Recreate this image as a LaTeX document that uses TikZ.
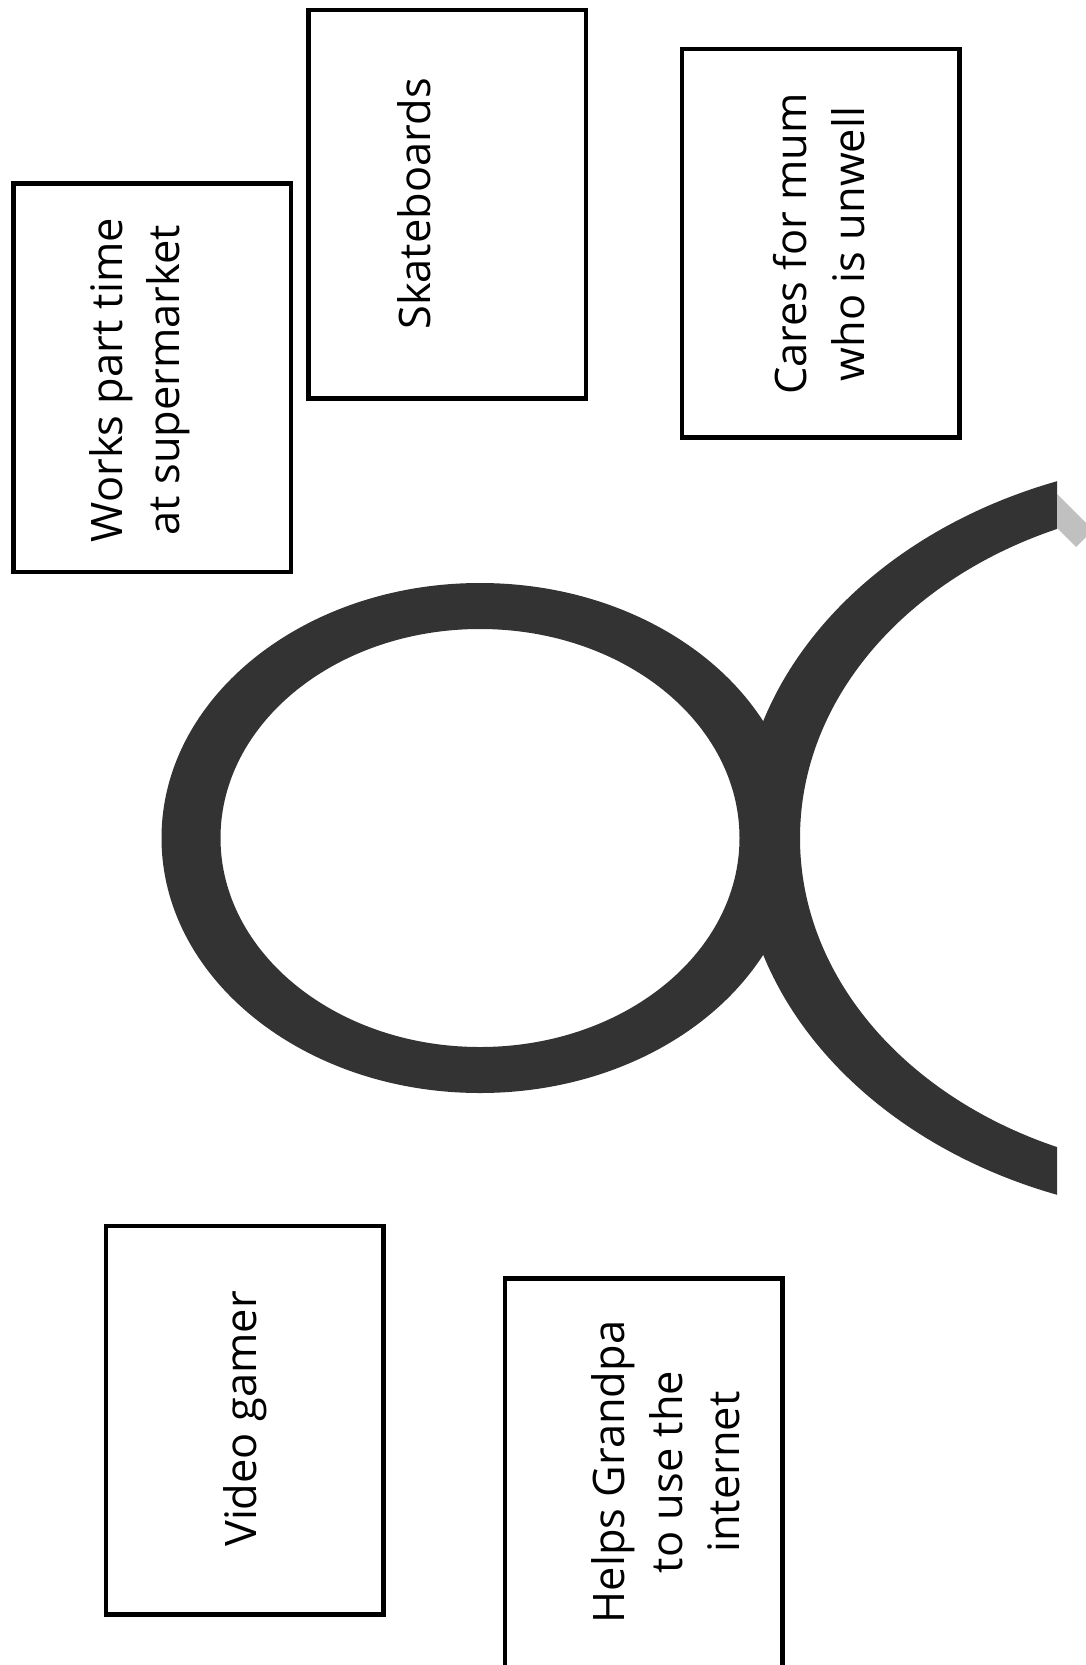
\documentclass[tikz,border=0pt]{standalone}
\usepackage{fontspec}
\setmainfont{Open Sans}
\usepackage{tikz}
\usetikzlibrary{positioning}
\definecolor{headgrey}{HTML}{333333}
\definecolor{tabgrey}{HTML}{C0C0C0}

\begin{document}
\begin{tikzpicture}[
    x=0.5pt, y=-0.5pt,
    card/.style={draw, rectangle, line width=2.25pt, rotate=90, minimum width=194.25pt, minimum height=138.75pt, inner sep=0pt},
    cardtext/.style={rotate=90, align=center, inner sep=0pt, font=\fontsize{21.7}{28.7}\selectfont},
    ring/.style={fill=headgrey, even odd rule}
]
    \useasboundingbox (0,0) rectangle (1086,1665);

    \node[card] (works) at (152,377.5) {};
    \node[card] (skate) at (447,204) {};
    \node[card] (cares) at (820.5,243) {};
    \node[card] (gamer) at (244.5,1420) {};
    \node[card] (grandpa) at (643.7,1472.5) {};

    \node[cardtext] (workslbl) at (140,380) {Works part time\\at supermarket};
    \node[cardtext] (skatelbl) at (414,204) {Skateboards};
    \node[cardtext] (careslbl) at (819,244) {Cares for mum\\who is unwell};
    \node[cardtext] (gamerlbl) at (245,1419) {Video gamer};
    \node[cardtext] (grandpalbl) at (666,1472) {Helps Grandpa\\to use the\\internet};

    \fill[ring] (480,838) ellipse [x radius=318.5, y radius=255] (480,838) ellipse [x radius=259.5, y radius=209];
    \begin{scope}
        \clip (0,0) rectangle (1057,1665);
        \fill[ring] (1219,838) ellipse [x radius=479, y radius=379] (1219,838) ellipse [x radius=419, y radius=335];
    \end{scope}
    \fill[tabgrey] (1057,494) -- (1093,530) -- (1076,547) -- (1057,528) -- cycle;
\end{tikzpicture}
\end{document}
